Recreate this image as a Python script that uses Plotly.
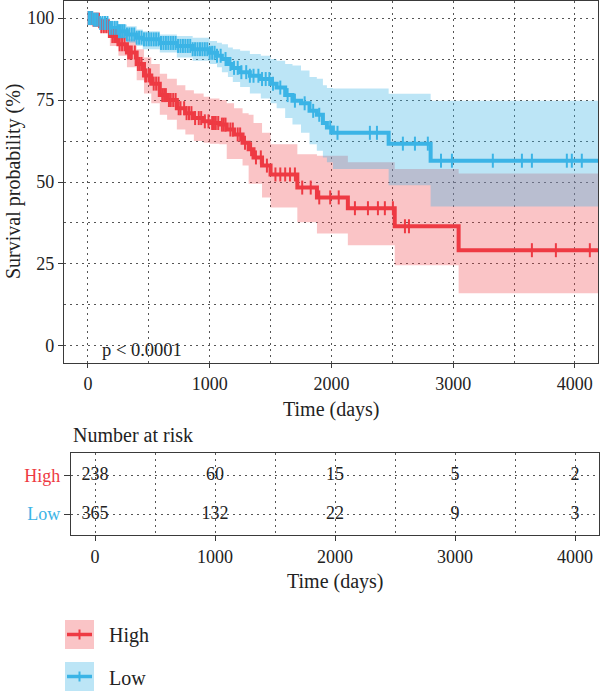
import numpy as np
import plotly.graph_objects as go

# ---------------- data ----------------
high_t = [0, 40, 100, 180, 250, 320, 400, 460, 520, 590, 650, 730, 800, 870, 950, 1000,
          1080, 1140, 1200, 1270, 1320, 1360, 1430, 1500, 1720, 1881, 2135, 2520, 3045]
high_s = [100, 99.5, 97.5, 94.5, 92, 89.5, 86, 82.5, 80, 76.5, 75, 72.5, 71, 69.5, 68.5, 68,
          67.5, 66, 64.5, 62, 60, 57.5, 55, 52.3, 48.3, 45.3, 42, 36.5, 29.2]
high_lo = [100, 98.3, 95.5, 91.5, 88.5, 85, 81, 77, 74, 70.5, 69, 66, 64.5, 62.5, 62, 61.7,
           61.5, 57, 57, 55, 49.5, 49.5, 45.3, 42.2, 37.7, 34.3, 30.7, 24.6, 16.1]
high_hi = [100, 100, 99.5, 97.5, 95.5, 93.5, 90.5, 88, 86, 83, 81.5, 79.5, 78, 77, 76, 75.5,
           75, 74, 72.5, 71, 70.5, 68, 65, 61.5, 58.5, 58, 56, 54, 52.6]

low_t = [0, 40, 100, 180, 250, 320, 400, 450, 590, 730, 860, 1000, 1060, 1100, 1150, 1190,
         1250, 1330, 1420, 1500, 1550, 1620, 1680, 1750, 1820, 1880, 1930, 1963, 2012, 2470, 2815]
low_s = [100, 99.5, 98.5, 97, 96, 95, 94, 93.5, 92.4, 91.5, 90.5, 89.4, 88.5, 87.5, 86, 84.8,
         83.5, 82.4, 81.4, 80, 78.8, 76.5, 74.8, 74, 71.7, 70.5, 68, 66.6, 65, 61.7, 56.5]
low_lo = [100, 98.5, 97, 95, 93.5, 92.5, 91.5, 90.5, 89.5, 88, 87, 86, 85, 83.5, 82, 80.5,
          79, 77, 75.5, 74, 72.5, 69.5, 67.5, 65, 61.5, 59.5, 57.5, 56, 54, 49, 42.5]
low_hi = [100, 100, 100, 99, 98, 97.5, 96.5, 96, 95, 94.5, 94, 93, 92.5, 92, 91, 90.5,
          90, 89, 88.5, 87.5, 87, 86, 85.5, 84, 82, 81.5, 79.5, 78.7, 78.5, 76.9, 74.8]

t_end = 4190

high_cens = [5, 15, 25, 30, 45, 60, 75, 90, 110, 130, 150, 170, 200, 215, 230, 260, 280, 300,
             330, 345, 360, 385, 410, 425, 440, 470, 480, 500, 510, 540, 560, 580, 610, 625,
             640, 665, 680, 700, 720, 745, 760, 790, 810, 830, 850, 880, 910, 930, 960, 990,
             1020, 1035, 1050, 1070, 1100, 1115, 1130, 1170, 1190, 1230, 1250, 1290, 1340,
             1380, 1420, 1470, 1540, 1580, 1620, 1660, 1700, 1760, 1830, 1900, 1990, 2060,
             2193, 2300, 2382, 2439, 2505, 2604, 2637, 3647, 3844, 4123]
low_cens = [5, 10, 20, 35, 50, 65, 80, 100, 120, 140, 160, 180, 200, 220, 240, 255, 270, 285,
            300, 320, 340, 360, 380, 400, 420, 440, 460, 480, 500, 520, 540, 560, 580, 600,
            620, 640, 660, 680, 700, 720, 740, 760, 780, 800, 820, 840, 860, 880, 900, 920,
            940, 960, 980, 1000, 1020, 1040, 1060, 1090, 1130, 1170, 1200, 1230, 1260, 1300,
            1330, 1360, 1400, 1430, 1460, 1490, 1520, 1580, 1640, 1700, 1780, 1850, 1900,
            1990, 2050, 2316, 2374, 2587, 2686, 2792, 2900, 2990, 3326, 3565, 3647, 3934,
            3975, 4057]

risk_times = [0, 1000, 2000, 3000, 4000]
risk_high = [238, 60, 15, 5, 2]
risk_low = [365, 132, 22, 9, 3]

groups = ["High", "Low"]
pval_text = "p < 0.0001"

# ---------------- styling ----------------
RED = "#EE3A43"
BLUE = "#3BB4E6"
RED_FILL = "rgba(238,58,67,0.30)"
BLUE_FILL = "rgba(59,180,230,0.34)"
FONT = "Liberation Serif"
AX = "#3a3a3a"
GRID = "#555555"
W, H = 600, 691


def px_x(p):
    return p / W


def px_y(p):
    return 1 - p / H


def step_at(ts, vs, t):
    idx = np.searchsorted(np.array(ts), np.array(t), side="right") - 1
    return np.array(vs)[idx]


fig = go.Figure()

# ribbons
for ts, lo, hi, fc in [(high_t, high_lo, high_hi, RED_FILL), (low_t, low_lo, low_hi, BLUE_FILL)]:
    xs = list(ts) + [t_end]
    fig.add_trace(go.Scatter(x=xs, y=list(lo) + [lo[-1]], mode="lines", line=dict(width=0, shape="hv"),
                             hoverinfo="skip", showlegend=False))
    fig.add_trace(go.Scatter(x=xs, y=list(hi) + [hi[-1]], mode="lines", line=dict(width=0, shape="hv"),
                             fill="tonexty", fillcolor=fc, hoverinfo="skip", showlegend=False))

# survival lines
for ts, ss, col in [(high_t, high_s, RED), (low_t, low_s, BLUE)]:
    fig.add_trace(go.Scatter(x=list(ts) + [t_end], y=list(ss) + [ss[-1]], mode="lines",
                             line=dict(color=col, width=4, shape="hv"), showlegend=False))

# censor marks
for ts, ss, cens, col in [(high_t, high_s, high_cens, RED), (low_t, low_s, low_cens, BLUE)]:
    fig.add_trace(go.Scatter(x=cens, y=step_at(ts, ss, cens), mode="markers",
                             marker=dict(symbol="line-ns", size=10, line=dict(color=col, width=2)),
                             showlegend=False))

# risk table text
fig.add_trace(go.Scatter(x=risk_times + risk_times, y=[2] * len(risk_times) + [1] * len(risk_times),
                         text=[str(v) for v in risk_high + risk_low], mode="text",
                         textfont=dict(family=FONT, size=18, color="#222222"),
                         xaxis="x2", yaxis="y2", showlegend=False))

grid_common = dict(showgrid=True, gridcolor=GRID, gridwidth=1, griddash="1.5px,4.5px")
axis_common = dict(showline=True, linecolor=AX, linewidth=1.3, mirror=True, ticks="outside",
                   tickcolor=AX, zeroline=False,
                   tickfont=dict(family=FONT, size=18, color="#222222"))

fig.update_layout(
    width=W, height=H,
    margin=dict(l=0, r=0, t=0, b=0),
    plot_bgcolor="white", paper_bgcolor="white",
    showlegend=False,
    xaxis=dict(domain=[px_x(64), px_x(598)], range=[-197, t_end], tickvals=[0, 1000, 2000, 3000, 4000],
               ticklen=4, minor=dict(dtick=500, tick0=0, showgrid=True, gridcolor=GRID, gridwidth=1,
                                     griddash="1.5px,4.5px"),
               anchor="y", **grid_common, **axis_common),
    yaxis=dict(domain=[px_y(363), px_y(1)], range=[-5.2, 105.2], tickvals=[0, 25, 50, 75, 100],
               ticklen=5, minor=dict(dtick=12.5, tick0=0, showgrid=True, gridcolor=GRID, gridwidth=1,
                                     griddash="1.5px,4.5px"),
               anchor="x", **grid_common, **axis_common),
    xaxis2=dict(domain=[px_x(71), px_x(599)], range=[-200, 4200], tickvals=[0, 1000, 2000, 3000, 4000],
                ticklen=5, minor=dict(dtick=500, tick0=0, showgrid=True, gridcolor=GRID, gridwidth=1,
                                      griddash="1.5px,4.5px"),
                anchor="y2", **grid_common, **axis_common),
    yaxis2=dict(domain=[px_y(535), px_y(453)], range=[0.45, 2.6], tickvals=[1, 2],
                ticktext=["<span style='color:%s'>%s</span>" % (BLUE, groups[1]),
                          "<span style='color:%s'>%s</span>" % (RED, groups[0])],
                ticklen=6, anchor="x2", **grid_common, **axis_common),
)

ann = []
tf = dict(family=FONT, size=20, color="#222222")
ann.append(dict(x=px_x(13), y=px_y(181), xref="paper", yref="paper", text="Survival probability (%)",
                textangle=-90, showarrow=False, font=tf, xanchor="center", yanchor="middle"))
ann.append(dict(x=px_x(331), y=px_y(409), xref="paper", yref="paper", text="Time (days)",
                showarrow=False, font=tf, xanchor="center", yanchor="middle"))
ann.append(dict(x=px_x(335), y=px_y(581), xref="paper", yref="paper", text="Time (days)",
                showarrow=False, font=tf, xanchor="center", yanchor="middle"))
ann.append(dict(x=px_x(71), y=px_y(435), xref="paper", yref="paper", text="Number at risk",
                showarrow=False, font=tf, xanchor="left", yanchor="middle"))
ann.append(dict(x=px_x(100), y=px_y(350), xref="paper", yref="paper", text=pval_text,
                showarrow=False, font=dict(family=FONT, size=18.5, color="#222222"),
                xanchor="left", yanchor="middle"))

# legend (manual)
shapes = []
for i, (name, col, fc) in enumerate([(groups[0], RED, RED_FILL), (groups[1], BLUE, BLUE_FILL)]):
    top = 620 + i * 42
    cy = top + 14.5
    shapes.append(dict(type="rect", xref="paper", yref="paper", x0=px_x(65), x1=px_x(94),
                       y0=px_y(top + 29), y1=px_y(top), fillcolor=fc, line=dict(width=0)))
    shapes.append(dict(type="line", xref="paper", yref="paper", x0=px_x(67), x1=px_x(92),
                       y0=px_y(cy), y1=px_y(cy), line=dict(color=col, width=3.5)))
    shapes.append(dict(type="line", xref="paper", yref="paper", x0=px_x(79.5), x1=px_x(79.5),
                       y0=px_y(cy - 5), y1=px_y(cy + 5), line=dict(color=col, width=2)))
    ann.append(dict(x=px_x(107), y=px_y(cy + 1), xref="paper", yref="paper", text=name,
                    showarrow=False, font=dict(family=FONT, size=20, color="#222222"),
                    xanchor="left", yanchor="middle"))

fig.update_layout(annotations=ann, shapes=shapes)
fig.write_html("out.html")
